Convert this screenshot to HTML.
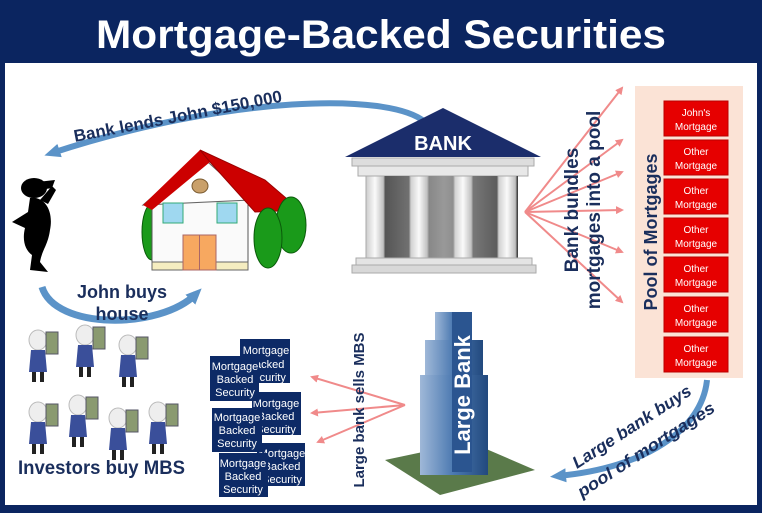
<!DOCTYPE html>
<html><head><meta charset="utf-8"><style>
html,body{margin:0;padding:0;background:#0b2560}
svg{display:block}
text{font-family:"Liberation Sans",Arial,sans-serif;font-weight:bold}
g.n text{font-weight:normal}
</style></head><body>
<svg width="762" height="513" viewBox="0 0 762 513" xmlns="http://www.w3.org/2000/svg">
<defs>
<marker id="ab" markerWidth="16" markerHeight="16" refX="8" refY="8" orient="auto" markerUnits="userSpaceOnUse"><path d="M0,1 L16,8 L0,15 z" fill="#5b93c8"/></marker>
<marker id="ar" markerWidth="8" markerHeight="8" refX="6" refY="4" orient="auto" markerUnits="userSpaceOnUse"><path d="M0,0 L8,4 L0,8 z" fill="#f08a8a"/></marker>
<linearGradient id="col" x1="0" x2="1"><stop offset="0" stop-color="#ccc"/><stop offset=".5" stop-color="#fafafa"/><stop offset="1" stop-color="#bbb"/></linearGradient>
<linearGradient id="gap" x1="0" x2="1"><stop offset="0" stop-color="#444"/><stop offset=".5" stop-color="#999"/><stop offset="1" stop-color="#444"/></linearGradient>
<linearGradient id="tw" x1="0" x2="1"><stop offset="0" stop-color="#9fb8d8"/><stop offset=".5" stop-color="#4a78b0"/><stop offset="1" stop-color="#22497e"/></linearGradient>
<g id="inv">
<ellipse cx="0" cy="0" rx="9" ry="10" fill="#eee" stroke="#bbb"/>
<path d="M-7,10 L7,10 L9,32 L-9,32z" fill="#3a4f9a"/>
<rect x="-6" y="32" width="4" height="10" fill="#222"/><rect x="2" y="32" width="4" height="10" fill="#222"/>
<rect x="8" y="-8" width="12" height="22" fill="#8a9a70" stroke="#556"/>
</g>
</defs>
<rect width="762" height="513" fill="#0b2560"/>
<rect x="5" y="63" width="752" height="442" fill="#fff"/>
<text x="381" y="48" font-size="40" fill="#fff" text-anchor="middle" textLength="570" lengthAdjust="spacingAndGlyphs">Mortgage-Backed Securities</text>

<!-- bank lends arrow -->
<path d="M425,122 C390,92 230,95 52,153" fill="none" stroke="#5b93c8" stroke-width="6" marker-end="url(#ab)"/>
<text x="0" y="0" font-size="17" fill="#1a2e5c" transform="translate(75,142) rotate(-11)">Bank lends John $150,000</text>

<!-- man -->
<g fill="#000">
<ellipse cx="34" cy="188" rx="13" ry="10"/>
<path d="M28,183 L55,180 L52,188 L40,190z"/>
<path d="M30,198 C44,196 54,210 50,230 C48,245 42,250 40,262 L48,272 L30,270 L32,255 C25,250 22,240 25,228 L12,222 L28,212z"/>
<path d="M40,200 L52,186 L56,190 L48,204z"/>
</g>

<!-- house -->
<ellipse cx="152" cy="232" rx="10" ry="28" fill="#1a9a1a" stroke="#0a5a0a"/>
<rect x="152" y="198" width="96" height="70" fill="#fafafa" stroke="#555"/>
<rect x="152" y="262" width="96" height="8" fill="#f5edc0" stroke="#666"/>
<polygon points="143,205 200,155 250,200" fill="#fff" stroke="#666"/>
<polygon points="143,205 200,150 210,162 152,210" fill="#c00"/>
<polygon points="200,150 265,180 300,210 255,212 210,162" fill="#c00" stroke="#900"/>
<ellipse cx="200" cy="186" rx="8" ry="7" fill="#c9a06a" stroke="#7a5a30"/>
<rect x="163" y="203" width="20" height="20" fill="#9fd8f0" stroke="#3a7"/>
<rect x="217" y="203" width="20" height="20" fill="#9fd8f0" stroke="#3a7"/>
<rect x="183" y="235" width="33" height="35" fill="#f7a860" stroke="#a66"/>
<line x1="199.5" y1="235" x2="199.5" y2="270" stroke="#a66"/>
<ellipse cx="291" cy="225" rx="15" ry="28" fill="#1a9a1a" stroke="#0a5a0a"/>
<ellipse cx="268" cy="238" rx="14" ry="30" fill="#1a9a1a" stroke="#0a5a0a"/>

<!-- john buys house -->
<path d="M42,287 C55,330 160,330 196,294" fill="none" stroke="#5b93c8" stroke-width="7" marker-end="url(#ab)"/>
<text x="122" y="298" font-size="18" fill="#1a2e5c" text-anchor="middle">John buys</text>
<text x="122" y="320" font-size="18" fill="#1a2e5c" text-anchor="middle">house</text>

<!-- bank -->
<polygon points="443,108 345,157 541,157" fill="#1b2d6b"/>
<text x="443" y="150" font-size="20" fill="#fff" text-anchor="middle">BANK</text>
<rect x="352" y="158" width="182" height="8" fill="#ddd" stroke="#aaa"/>
<rect x="358" y="166" width="170" height="10" fill="#e8e8e8" stroke="#aaa"/>
<rect x="370" y="176" width="148" height="82" fill="url(#gap)"/>
<g fill="url(#col)" stroke="#aaa">
<rect x="366" y="176" width="18" height="82"/><rect x="410" y="176" width="18" height="82"/><rect x="454" y="176" width="18" height="82"/><rect x="498" y="176" width="18" height="82"/>
</g>
<rect x="356" y="258" width="176" height="7" fill="#e4e4e4" stroke="#aaa"/>
<rect x="352" y="265" width="184" height="8" fill="#d8d8d8" stroke="#aaa"/>

<!-- fan -->
<g stroke="#f08a8a" stroke-width="2" fill="none">
<line x1="525" y1="212" x2="622" y2="88" marker-end="url(#ar)"/>
<line x1="525" y1="212" x2="622" y2="140" marker-end="url(#ar)"/>
<line x1="525" y1="212" x2="622" y2="172" marker-end="url(#ar)"/>
<line x1="525" y1="212" x2="622" y2="210" marker-end="url(#ar)"/>
<line x1="525" y1="212" x2="622" y2="252" marker-end="url(#ar)"/>
<line x1="525" y1="212" x2="622" y2="302" marker-end="url(#ar)"/>
</g>
<text transform="translate(578,210) rotate(-90)" font-size="19" fill="#1a2e5c" text-anchor="middle">Bank bundles</text>
<text transform="translate(600,210) rotate(-90)" font-size="19" fill="#1a2e5c" text-anchor="middle">mortgages into a pool</text>

<!-- pool -->
<rect x="635" y="86" width="108" height="292" fill="#fbe3d6"/>
<text transform="translate(657,232) rotate(-90)" font-size="18" fill="#1a2e5c" text-anchor="middle">Pool of Mortgages</text>
<g fill="#e60000" stroke="#b00">
<rect x="664" y="101" width="64" height="35"/><rect x="664" y="140" width="64" height="35"/><rect x="664" y="179" width="64" height="35"/><rect x="664" y="218" width="64" height="35"/><rect x="664" y="257" width="64" height="35"/><rect x="664" y="297" width="64" height="35"/><rect x="664" y="337" width="64" height="35"/>
</g>
<g class="n" font-size="10" fill="#fff" text-anchor="middle">
<text x="696" y="116">John's</text><text x="696" y="130">Mortgage</text>
<text x="696" y="155">Other</text><text x="696" y="169">Mortgage</text>
<text x="696" y="194">Other</text><text x="696" y="208">Mortgage</text>
<text x="696" y="233">Other</text><text x="696" y="247">Mortgage</text>
<text x="696" y="272">Other</text><text x="696" y="286">Mortgage</text>
<text x="696" y="312">Other</text><text x="696" y="326">Mortgage</text>
<text x="696" y="352">Other</text><text x="696" y="366">Mortgage</text>
</g>

<!-- large bank buys arrow -->
<path d="M707,380 C702,430 645,468 558,476" fill="none" stroke="#5b93c8" stroke-width="6" marker-end="url(#ab)"/>
<text transform="translate(577,469) rotate(-33)" font-size="17" fill="#1a2e5c" font-style="italic" textLength="138" lengthAdjust="spacingAndGlyphs">Large bank buys</text>
<text transform="translate(582,498) rotate(-33)" font-size="17" fill="#1a2e5c" font-style="italic" textLength="160" lengthAdjust="spacingAndGlyphs">pool of mortgages</text>

<!-- tower -->
<polygon points="385,460 470,442 535,470 440,495" fill="#5a7a4a"/>
<rect x="435" y="312" width="36" height="40" fill="url(#tw)"/>
<rect x="425" y="340" width="58" height="45" fill="url(#tw)"/>
<rect x="420" y="375" width="68" height="100" fill="url(#tw)"/>
<rect x="452" y="312" width="20" height="160" fill="#2b5590"/>
<text transform="translate(470,395) rotate(-90)" font-size="22" fill="#fff" text-anchor="middle">Large Bank</text>

<!-- sells -->
<g stroke="#f08a8a" stroke-width="2" fill="none">
<line x1="405" y1="405" x2="312" y2="377" marker-end="url(#ar)"/>
<line x1="405" y1="405" x2="312" y2="413" marker-end="url(#ar)"/>
<line x1="405" y1="405" x2="318" y2="442" marker-end="url(#ar)"/>
</g>
<text transform="translate(364,410) rotate(-90)" font-size="15" fill="#1a2e5c" text-anchor="middle">Large bank sells MBS</text>

<!-- MBS boxes -->
<g fill="#0d2a66">
<rect x="240" y="339" width="50" height="44"/>
<rect x="252" y="392" width="49" height="43"/>
<rect x="257" y="443" width="48" height="43"/>
</g>
<g class="n" font-size="11" fill="#fff" text-anchor="middle">
<text x="266" y="354">Mortgage</text><text x="266" y="368">Backed</text><text x="266" y="381">Security</text>
<text x="276" y="407">Mortgage</text><text x="276" y="420">Backed</text><text x="276" y="433">Security</text>
<text x="282" y="457">Mortgage</text><text x="282" y="470">Backed</text><text x="282" y="483">Security</text>
</g>
<g fill="#0d2a66"><rect x="210" y="356" width="49" height="45"/><rect x="212" y="408" width="50" height="44"/><rect x="219" y="453" width="49" height="44"/></g>
<g class="n" font-size="11" fill="#fff" text-anchor="middle">
<text x="235" y="370">Mortgage</text><text x="235" y="383">Backed</text><text x="235" y="396">Security</text>
<text x="237" y="421">Mortgage</text><text x="237" y="434">Backed</text><text x="237" y="447">Security</text>
<text x="243" y="467">Mortgage</text><text x="243" y="480">Backed</text><text x="243" y="493">Security</text>
</g>

<!-- investors -->
<use href="#inv" x="38" y="340"/><use href="#inv" x="85" y="335"/><use href="#inv" x="128" y="345"/>
<use href="#inv" x="38" y="412"/><use href="#inv" x="78" y="405"/><use href="#inv" x="118" y="418"/><use href="#inv" x="158" y="412"/>
<text x="18" y="474" font-size="19" fill="#1a2e5c" textLength="167" lengthAdjust="spacingAndGlyphs">Investors buy MBS</text>
</svg>
</body></html>
